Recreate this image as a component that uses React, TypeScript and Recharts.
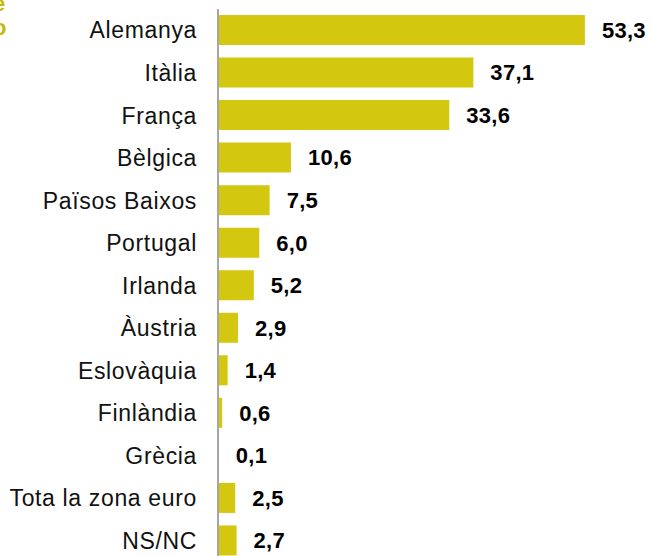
import React from 'react';
import { BarChart, Bar, XAxis, YAxis, LabelList } from 'recharts';

const countries = [
  'Alemanya', 'Itàlia', 'França', 'Bèlgica', 'Països Baixos', 'Portugal', 'Irlanda',
  'Àustria', 'Eslovàquia', 'Finlàndia', 'Grècia', 'Tota la zona euro', 'NS/NC',
];
const values = [53.3, 37.1, 33.6, 10.6, 7.5, 6.0, 5.2, 2.9, 1.4, 0.6, 0.1, 2.5, 2.7];

const data = countries.map((name, i) => ({ name, value: values[i] }));

const fmt = (v: any) => Number(v).toFixed(1).replace('.', ',');

const App: React.FC = () => {
  return (
    <div style={{ position: 'absolute', left: 0, top: 0, width: 651, height: 556, overflow: 'hidden', background: '#fff' }}>
      {/* cut-off title fragments at the left edge */}
      <div style={{ position: 'absolute', left: -7, top: -8, fontFamily: 'Liberation Sans, Arial, sans-serif', fontWeight: 'bold', fontSize: 22, color: '#C9B80A', lineHeight: '24px' }}>
        e<br />o
      </div>
      <BarChart
        width={651}
        height={562}
        data={data}
        layout="vertical"
        margin={{ top: 9, right: 20, bottom: 0, left: 0 }}
        barSize={30}
      >
        <XAxis type="number" domain={[0, 60]} hide />
        <YAxis
          type="category"
          dataKey="name"
          width={218}
          tickLine={false}
          tickSize={0}
          tickMargin={21}
          axisLine={{ stroke: '#a6a6a6', strokeWidth: 2 }}
          tick={{ fill: '#111', fontSize: 23, fontFamily: 'Liberation Sans, Arial, sans-serif', letterSpacing: 0.65 }}
          interval={0}
        />
        <Bar dataKey="value" fill="#D3C70F" isAnimationActive={false}>
          <LabelList
            dataKey="value"
            position="right"
            offset={17}
            formatter={fmt}
            style={{ fill: '#000', fontSize: 22, fontWeight: 'bold', fontFamily: 'Liberation Sans, Arial, sans-serif', letterSpacing: 0.3 }}
          />
        </Bar>
      </BarChart>
    </div>
  );
};

export default App;
